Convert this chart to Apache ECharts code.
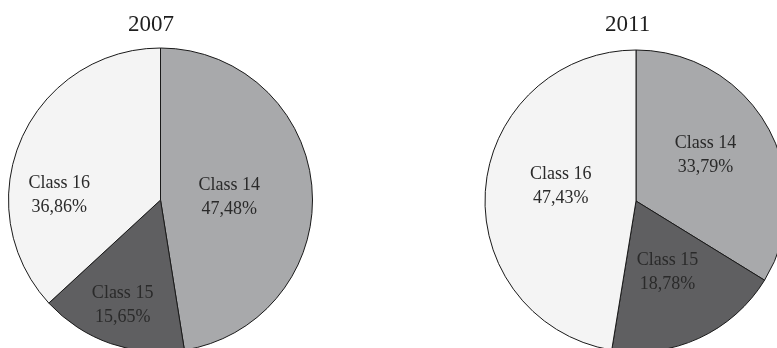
<!DOCTYPE html>
<html>
<head>
<meta charset="utf-8">
<script src="https://cdn.jsdelivr.net/npm/echarts@6/dist/echarts.min.js"></script>
<style>
html,body{margin:0;padding:0;background:#fff;}
#chart{width:777px;height:348px;}
</style>
</head>
<body>
<div id="chart"></div>
<script>
const categories = ['Class 14', 'Class 15', 'Class 16'];
const years = ['2007', '2011'];
const values2007 = [47.48, 15.65, 36.86];
const values2011 = [33.79, 18.78, 47.43];

const sliceColors = ['#a8a9ab', '#5f5f61', '#f4f4f4'];
const labelNudge2007 = [[-10, 4], [-12, 31], [-29, 27]];
const labelNudge2011 = [[1, -7], [-1, 0], [3, -8]];

function buildData(vals, nudges) {
  return categories.map((c, i) => ({
    name: c,
    value: vals[i],
    itemStyle: { color: sliceColors[i] },
    label: { offset: nudges[i] }
  }));
}

function pieSeries(vals, nudges, center, radius) {
  return {
    type: 'pie',
    center: center,
    radius: radius,
    startAngle: 90,
    clockwise: true,
    animation: false,
    silent: true,
    itemStyle: { borderColor: '#1a1a1a', borderWidth: 1 },
    label: {
      show: true,
      position: 'inside',
      fontFamily: 'Liberation Serif',
      fontSize: 18,
      lineHeight: 24,
      color: '#2a2a2a',
      formatter: p => p.name + '\n' + p.value.toFixed(2).replace('.', ',') + '%'
    },
    labelLine: { show: false },
    emphasis: { disabled: true },
    data: buildData(vals, nudges)
  };
}

const chart = echarts.init(document.getElementById('chart'), null, { renderer: 'canvas' });
chart.setOption({
  backgroundColor: '#fff',
  animation: false,
  title: [
    { text: years[0], left: 128, top: 13, padding: 0,
      textStyle: { fontFamily: 'Liberation Serif', fontSize: 23, fontWeight: 'normal', color: '#1e1e1e' } },
    { text: years[1], left: 605, top: 13, padding: 0,
      textStyle: { fontFamily: 'Liberation Serif', fontSize: 23, fontWeight: 'normal', color: '#1e1e1e' } }
  ],
  series: [
    pieSeries(values2007, labelNudge2007, [160.5, 200], 152),
    pieSeries(values2011, labelNudge2011, [636, 201], 151)
  ]
});
</script>
</body>
</html>
